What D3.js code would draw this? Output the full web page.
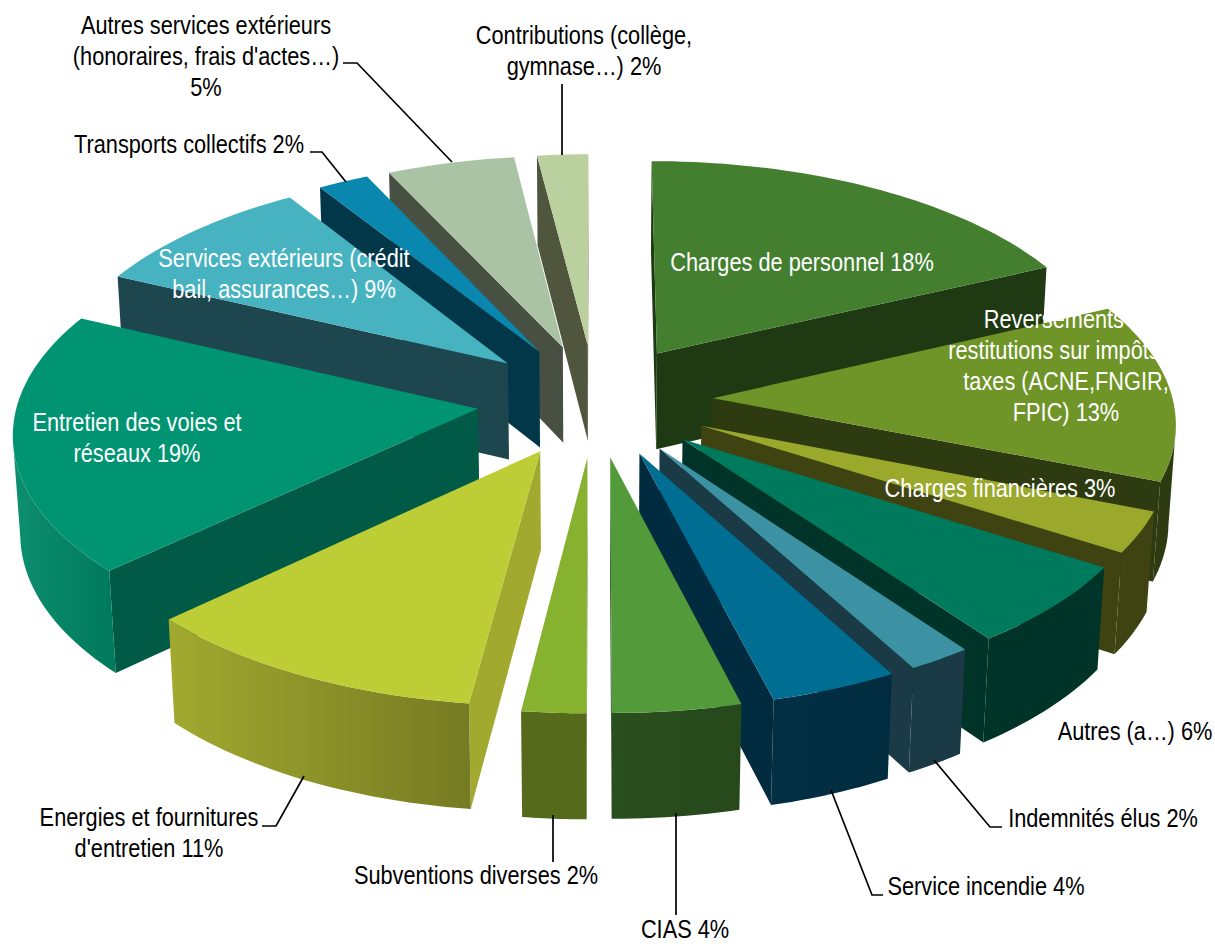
<!DOCTYPE html>
<html>

<head>
    <meta charset="UTF-8">
    <script src="https://d3js.org/d3.v7.min.js"></script>
    <style>
        body { margin: 0; background: #fff; }
        text { font-family: "Liberation Sans", Arial, sans-serif; font-size: 25px; }
    </style>
</head>

<body>
    <svg></svg>

    <script>
        let width = 1215, height = 944;

        // data, clockwise from 12 o'clock
        const categories = ["Charges de personnel", "Reversements et restitutions", "Charges financières", "Autres", "Indemnités élus", "Service incendie", "CIAS", "Subventions diverses", "Energies et fournitures", "Entretien des voies et réseaux", "Services extérieurs", "Transports collectifs", "Autres services extérieurs", "Contributions"];
        const values = [18, 13, 3, 6, 2, 4, 4, 2, 11, 19, 9, 2, 5, 2];

        // colours per slice
        const topColors = ["#437f2f", "#6f9427", "#9aa82c", "#007a5c", "#3c92a3", "#006d92", "#539b3a", "#86b230", "#bccd36", "#009473", "#47b3c1", "#0a87ae", "#a9c3a4", "#bad09e"];
        const sideColors = ["#1f3a12", "#2e3b10", "#3f4312", "#003428", "#1a3b46", "#012c40", "#26481b", "#566a1c", "#a2a92f", "#005a46", "#1e464f", "#02374a", "#485044", "#50563e"];
        const rimStart = ["#1f3a12", "#2e3b10", "#3f4312", "#003428", "#1a3b46", "#012c40", "#26481b", "#566a1c", "#757b22", "#007a5c", "#1e464f", "#02374a", "#485044", "#50563e"];
        const rimEnd = ["#1f3a12", "#2e3b10", "#3f4312", "#003428", "#1a3b46", "#032f44", "#2a4f1e", "#566a1c", "#a2a92f", "#0d8f6f", "#1e464f", "#02374a", "#485044", "#50563e"];

        // labels: text lines, centre x of each line, first baseline
        const labelLines = [
            ["Charges de personnel 18%"],
            ["Reversements et", "restitutions sur impôts et", "taxes (ACNE,FNGIR,", "FPIC) 13%"],
            ["Charges financières 3%"],
            ["Autres (a…) 6%"],
            ["Indemnités élus 2%"],
            ["Service incendie 4%"],
            ["CIAS 4%"],
            ["Subventions diverses 2%"],
            ["Energies et fournitures", "d'entretien 11%"],
            ["Entretien des voies et", "réseaux 19%"],
            ["Services extérieurs (crédit", "bail, assurances…) 9%"],
            ["Transports collectifs 2%"],
            ["Autres services extérieurs", "(honoraires, frais d'actes…)", "5%"],
            ["Contributions (collège,", "gymnase…) 2%"]
        ];
        const labelX = [[802], [1066, 1066, 1066, 1066], [1000], [1135], [1103], [986], [685], [476], [149, 149], [137, 137], [284, 284], [189], [206, 206, 206], [584, 584]];
        const labelY = [271, 328, 497, 740, 827, 895, 938, 884, 826, 431, 267, 153, 34, 44];
        const labelFill = ["#fff", "#fff", "#fff", "#000", "#000", "#000", "#000", "#000", "#000", "#fff", "#fff", "#000", "#000", "#000"];
        const textSqueeze = 0.87;

        const leaders = [
            [[343, 63], [357, 63], [452, 162]],
            [[310, 152], [322, 152], [346, 182]],
            [[562, 84], [562, 155]],
            [[262, 826], [276, 826], [304, 776]],
            [[553, 815], [553, 862]],
            [[676, 813], [676, 915]],
            [[831, 790], [872, 895], [883, 895]],
            [[934, 760], [990, 827], [1002, 827]]
        ];

        // 3d pie settings
        const cx = 595, cy = 400, R = 460, explode = 118, depth = 112;
        const elev = 0.497, camera = 4200;
        const sinE = Math.sin(elev), cosE = Math.cos(elev);

        let svg = d3.select("svg")
            .attr("width", width)
            .attr("height", height)
            .attr("viewBox", "0 0 " + width + " " + height)
            .style("display", "block");

        let defs = svg.append("defs");

        // X to the right, Y towards the viewer, Z downwards
        function project(X, Y, Z) {
            let k = camera / (camera - Y * cosE + Z * sinE);
            return [cx + X * k, cy + (Y * sinE + Z * cosE) * k];
        }

        function slicePoint(d, r, a, z) {
            let m = (d.startAngle + d.endAngle) / 2;
            let ox = explode * Math.sin(m), oy = -explode * Math.cos(m);
            return project(ox + r * Math.sin(a), oy - r * Math.cos(a), z);
        }

        // a wall under the edge p-q shows only if it hangs away from the top face
        function wallVisible(p, q, inner) {
            let ex = q[0] - p[0], ey = q[1] - p[1];
            return (ex * (inner[1] - p[1]) - ey * (inner[0] - p[0])) * ex < 0;
        }

        let line = d3.line();
        let pie = d3.pie().sort(null).value(d => d);
        let arcs = pie(values).map((d, i) => ({ ...d, i: i }));

        // back slices first
        arcs.sort((a, b) => Math.cos((b.startAngle + b.endAngle) / 2) - Math.cos((a.startAngle + a.endAngle) / 2));

        let slices = svg.append("g").attr("id", "pie")
            .selectAll("g")
            .data(arcs)
            .enter()
            .append("g")
            .attr("class", d => "slice s" + d.i);

        slices.each(function (d) {
            let g = d3.select(this);
            let steps = Math.max(12, Math.round((d.endAngle - d.startAngle) * 40));
            let angles = d3.range(steps + 1).map(j => d.startAngle + (d.endAngle - d.startAngle) * j / steps);
            let mid = (d.startAngle + d.endAngle) / 2;
            let inner = slicePoint(d, R * 0.5, mid, 0);
            let apexTop = slicePoint(d, 0, 0, 0), apexBot = slicePoint(d, 0, 0, depth);

            // radial walls
            [d.startAngle, d.endAngle].forEach(a => {
                let p = slicePoint(d, R, a, 0);
                if (wallVisible(apexTop, p, inner)) {
                    g.append("path")
                        .attr("d", line([apexTop, p, slicePoint(d, R, a, depth), apexBot]) + "Z")
                        .attr("fill", sideColors[d.i]);
                }
            });

            // outer wall, only the stretch of rim that faces the viewer
            let seen = angles.filter((a, j) => {
                if (j == angles.length - 1) return false;
                return wallVisible(slicePoint(d, R, a, 0), slicePoint(d, R, angles[j + 1], 0), inner);
            });
            if (seen.length) {
                seen.push(seen[seen.length - 1] + (d.endAngle - d.startAngle) / steps);
                let upper = seen.map(a => slicePoint(d, R, a, 0));
                let lower = seen.map(a => slicePoint(d, R, a, depth)).reverse();
                let id = "rim" + d.i;
                let grad = defs.append("linearGradient")
                    .attr("id", id)
                    .attr("gradientUnits", "userSpaceOnUse")
                    .attr("x1", upper[0][0])
                    .attr("x2", upper[upper.length - 1][0])
                    .attr("y1", 0)
                    .attr("y2", 0);
                grad.append("stop").attr("offset", 0).attr("stop-color", rimStart[d.i]);
                grad.append("stop").attr("offset", 1).attr("stop-color", rimEnd[d.i]);
                g.append("path")
                    .attr("d", line(upper.concat(lower)) + "Z")
                    .attr("fill", "url(#" + id + ")");
            }

            // top face
            let outline = [apexTop].concat(angles.map(a => slicePoint(d, R, a, 0)));
            g.append("path")
                .attr("d", line(outline) + "Z")
                .attr("fill", topColors[d.i])
                .append("title")
                .text(categories[d.i] + " " + values[d.i] + "%");
        });

        // leader lines
        svg.append("g").attr("id", "leaders")
            .selectAll("path")
            .data(leaders)
            .enter()
            .append("path")
            .attr("d", d => line(d))
            .attr("fill", "none")
            .attr("stroke", "#000")
            .attr("stroke-width", 1.7);

        // labels
        let labels = svg.append("g").attr("id", "labels")
            .attr("transform", "scale(" + textSqueeze + ",1)")
            .selectAll("text")
            .data(labelLines)
            .enter()
            .append("text")
            .attr("y", (d, i) => labelY[i])
            .attr("text-anchor", "middle")
            .attr("fill", (d, i) => labelFill[i]);

        labels.each(function (lines, i) {
            d3.select(this).selectAll("tspan")
                .data(lines)
                .enter()
                .append("tspan")
                .attr("x", (d, j) => labelX[i][j] / textSqueeze)
                .attr("y", (d, j) => labelY[i] + j * 31)
                .text(d => d);
        });
    </script>

</body>

</html>
